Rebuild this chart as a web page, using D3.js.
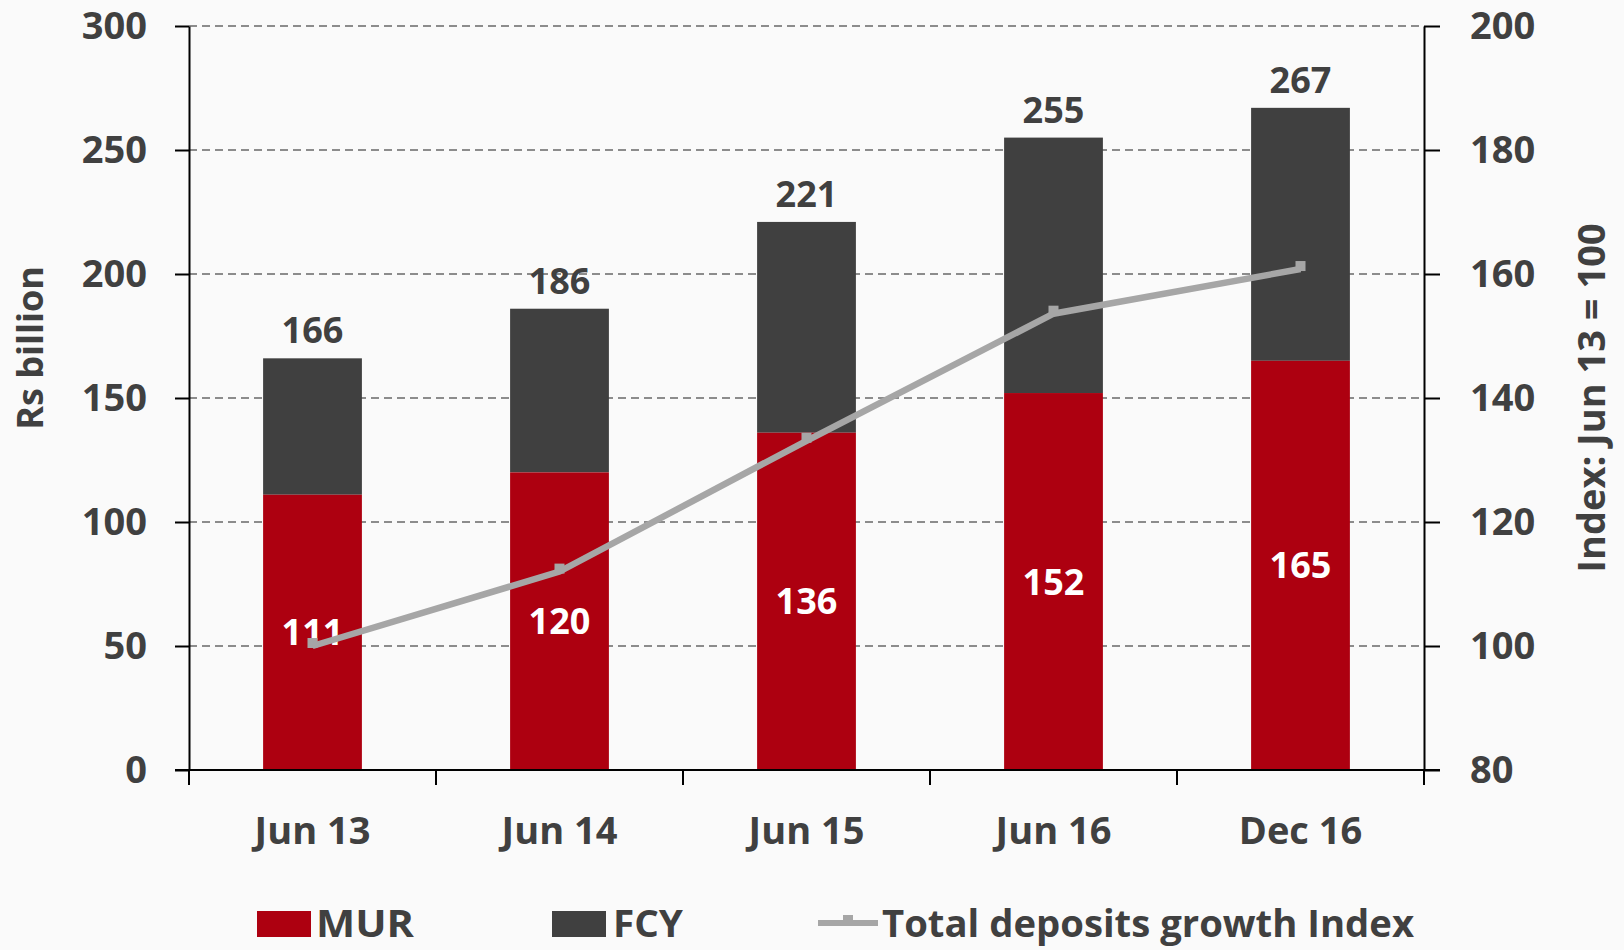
<!DOCTYPE html>
<html>
<head>
<meta charset="utf-8">
<script src="https://cdn.jsdelivr.net/npm/d3@7"></script>
<style>
  html, body { margin: 0; padding: 0; background: #fafafa; overflow: hidden; }
  svg { display: block; font-family: "Open Sans", sans-serif; font-weight: 700; }
</style>
</head>
<body>
<svg></svg>
<script>
const categories = ['Jun 13', 'Jun 14', 'Jun 15', 'Jun 16', 'Dec 16'];
const murValues = [111, 120, 136, 152, 165];
const totalValues = [166, 186, 221, 255, 267];
const indexValues = [100, 112.0, 133.1, 153.6, 160.8];
const leftTicks = [0, 50, 100, 150, 200, 250, 300];
const rightTicks = [80, 100, 120, 140, 160, 180, 200];

const svg = d3.select('svg')
  .attr('width', 1624)
  .attr('height', 950);

const margin = {top: 26, right: 200, bottom: 180, left: 189};
const innerWidth = 1624 - margin.left - margin.right;
const innerHeight = 950 - margin.top - margin.bottom;

const data = categories.map((c, i) => ({
  cat: c, mur: murValues[i], total: totalValues[i], index: indexValues[i]
}));

const xScale = d3.scaleBand()
  .domain(categories)
  .range([0, innerWidth])
  .paddingInner(0.6)
  .paddingOuter(0.3);

const xOuter = d3.scaleBand()
  .domain(categories)
  .range([0, innerWidth]);

const yScale = d3.scaleLinear().domain([0, 300]).range([innerHeight, 0]);
const yRight = d3.scaleLinear().domain([80, 200]).range([innerHeight, 0]);

const g = svg.append('g')
  .attr('transform', `translate(${margin.left},${margin.top})`);

// dashed gridlines
g.append('g').selectAll('line')
  .data(leftTicks.filter(d => d > 0))
  .join('line')
    .attr('x1', 0).attr('x2', innerWidth)
    .attr('y1', d => yScale(d)).attr('y2', d => yScale(d))
    .attr('stroke', '#8c8c8c')
    .attr('stroke-width', 2)
    .attr('stroke-dasharray', '8,5');

// bars
const barG = g.append('g');
barG.selectAll('rect.fcy')
  .data(data)
  .join('rect')
    .attr('class', 'fcy')
    .attr('x', d => xScale(d.cat))
    .attr('width', xScale.bandwidth())
    .attr('y', d => yScale(d.total))
    .attr('height', d => yScale(d.mur) - yScale(d.total))
    .attr('fill', '#404040');
barG.selectAll('rect.mur')
  .data(data)
  .join('rect')
    .attr('class', 'mur')
    .attr('x', d => xScale(d.cat))
    .attr('width', xScale.bandwidth())
    .attr('y', d => yScale(d.mur))
    .attr('height', d => innerHeight - yScale(d.mur))
    .attr('fill', '#ad0010');

// total labels
g.append('g').selectAll('text')
  .data(data)
  .join('text')
    .attr('x', d => xScale(d.cat) + xScale.bandwidth() / 2)
    .attr('y', d => yScale(d.total) - 15)
    .attr('text-anchor', 'middle')
    .attr('font-size', 36)
    .attr('fill', '#404040')
    .text(d => d.total);

// MUR labels
g.append('g').selectAll('text')
  .data(data)
  .join('text')
    .attr('x', d => xScale(d.cat) + xScale.bandwidth() / 2)
    .attr('y', d => (yScale(d.mur) + innerHeight) / 2 + 13)
    .attr('text-anchor', 'middle')
    .attr('font-size', 36)
    .attr('fill', '#ffffff')
    .text(d => d.mur);

// index line
const lineGenerator = d3.line()
  .x(d => xScale(d.cat) + xScale.bandwidth() / 2)
  .y(d => yRight(d.index));

g.append('path')
  .attr('d', lineGenerator(data))
  .attr('fill', 'none')
  .attr('stroke', '#a6a6a6')
  .attr('stroke-width', 6.5);

g.append('g').selectAll('rect')
  .data(data)
  .join('rect')
    .attr('x', d => xScale(d.cat) + xScale.bandwidth() / 2 - 5)
    .attr('y', d => yRight(d.index) - 8)
    .attr('width', 10)
    .attr('height', 10)
    .attr('fill', '#a6a6a6');

// axes
const styleAxis = (sel) => {
  sel.attr('font-size', null).attr('font-family', null);
  sel.selectAll('.tick text')
    .attr('font-size', 38)
    .attr('fill', '#404040');
  sel.selectAll('line, path').attr('stroke', '#000').attr('stroke-width', 2);
};

const yAxisG = g.append('g')
  .call(d3.axisLeft(yScale).tickValues(leftTicks).tickSize(14).tickSizeOuter(0).tickPadding(28))
  .call(styleAxis);

const yRightG = g.append('g')
  .attr('transform', `translate(${innerWidth},0)`)
  .call(d3.axisRight(yRight).tickValues(rightTicks).tickSize(16).tickSizeOuter(0).tickPadding(30))
  .call(styleAxis);

const xAxisG = g.append('g')
  .attr('transform', `translate(0,${innerHeight})`)
  .call(d3.axisBottom(xScale).tickSize(0).tickSizeOuter(0).tickPadding(47))
  .call(styleAxis);
xAxisG.select('.domain').remove();
xAxisG.append('line')
  .attr('x1', -14).attr('x2', innerWidth + 16)
  .attr('stroke', '#000').attr('stroke-width', 2);
xAxisG.selectAll('line.sep')
  .data(categories.concat(['end']))
  .join('line')
    .attr('class', 'sep')
    .attr('x1', d => d === 'end' ? innerWidth : xOuter(d))
    .attr('x2', d => d === 'end' ? innerWidth : xOuter(d))
    .attr('y1', 0).attr('y2', 15)
    .attr('stroke', '#000').attr('stroke-width', 2);

// axis titles
svg.append('text')
  .attr('transform', 'translate(43,348) rotate(-90)')
  .attr('text-anchor', 'middle')
  .attr('font-size', 36)
  .attr('fill', '#404040')
  .text('Rs billion');

svg.append('text')
  .attr('transform', 'translate(1605,398) rotate(-90)')
  .attr('text-anchor', 'middle')
  .attr('font-size', 38)
  .attr('fill', '#404040')
  .text('Index: Jun 13 = 100');

// legend
const legend = svg.append('g');
legend.append('rect').attr('x', 257).attr('y', 911).attr('width', 54).attr('height', 26).attr('fill', '#ad0010');
legend.append('text').attr('x', 316).attr('y', 937).attr('font-size', 38).attr('fill', '#404040')
  .attr('textLength', 98).attr('lengthAdjust', 'spacingAndGlyphs').text('MUR');
legend.append('rect').attr('x', 552).attr('y', 911).attr('width', 54).attr('height', 26).attr('fill', '#404040');
legend.append('text').attr('x', 613).attr('y', 937).attr('font-size', 38).attr('fill', '#404040')
  .attr('textLength', 70).attr('lengthAdjust', 'spacingAndGlyphs').text('FCY');
legend.append('line').attr('x1', 818).attr('x2', 878).attr('y1', 923).attr('y2', 923)
  .attr('stroke', '#a6a6a6').attr('stroke-width', 6);
legend.append('rect').attr('x', 843).attr('y', 915).attr('width', 10).attr('height', 10).attr('fill', '#a6a6a6');
legend.append('text').attr('x', 882).attr('y', 937).attr('font-size', 38).attr('fill', '#404040')
  .attr('textLength', 532).attr('lengthAdjust', 'spacingAndGlyphs').text('Total deposits growth Index');
</script>
</body>
</html>
